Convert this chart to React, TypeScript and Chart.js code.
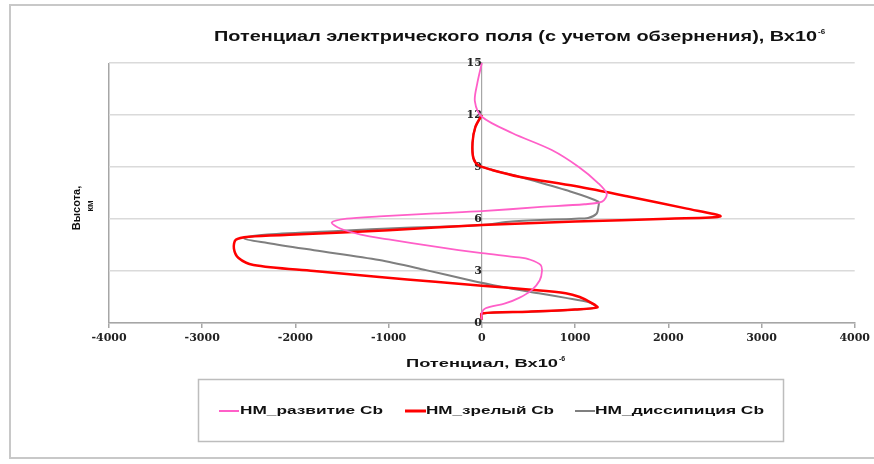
import React, { useEffect, useRef } from "react";
import { Chart, registerables } from "chart.js";

Chart.register(...registerables);

// ---- data (potential, x10^-6 V ; height, km) ----
const seriesLabels = ["НМ_развитие Cb", "НМ_зрелый Cb", "НМ_диссипиция Cb"];
const seriesColors = ["#ff5fc8", "#ff0000", "#7f7f7f"];

const razvitieX = [0, 0, 40, 250, 400, 535, 620, 645, 630, 520, 400, 0, -500, -1000, -1300, -1520, -1610, -1450, -1100, -500, 0, 600, 1100, 1290, 1340, 1250, 1040, 750, 330, 0, -75, -50, 0];
const razvitieY = [0.2, 0.6, 0.85, 1.13, 1.45, 1.9, 2.45, 3.0, 3.35, 3.65, 3.78, 4.03, 4.4, 4.82, 5.1, 5.45, 5.8, 6.02, 6.15, 6.32, 6.45, 6.68, 6.85, 7.0, 7.45, 8.06, 9.0, 9.98, 10.95, 11.9, 12.8, 13.8, 15];

const zrelyX = [0, 0, 500, 1000, 1240, 1180, 1050, 900, 500, 0, -500, -1100, -1800, -2450, -2610, -2660, -2640, -2500, -2000, -1000, 0, 1000, 2000, 2560, 2200, 1570, 1000, 400, 110, -35, -90, -100, -70, 0];
const zrelyY = [0.2, 0.55, 0.65, 0.78, 0.9, 1.15, 1.5, 1.72, 1.93, 2.15, 2.38, 2.65, 3.0, 3.35, 3.75, 4.3, 4.8, 4.98, 5.1, 5.35, 5.65, 5.85, 6.02, 6.15, 6.6, 7.3, 7.9, 8.44, 8.83, 9.1, 9.5, 10.4, 11.3, 12];

const dissX = [0, 0, 600, 1000, 1230, 1150, 900, 610, 200, -140, -600, -1100, -1800, -2300, -2550, -2300, -1500, -880, 0, 320, 1000, 1140, 1230, 1250, 1250, 900, 400, 110, -35, -90, -100, -70, 0];
const dissY = [0.2, 0.55, 0.66, 0.78, 0.9, 1.2, 1.45, 1.71, 2.1, 2.48, 3.05, 3.63, 4.2, 4.62, 4.88, 5.1, 5.32, 5.48, 5.65, 5.85, 6.02, 6.06, 6.3, 6.7, 7.0, 7.67, 8.44, 8.83, 9.1, 9.5, 10.4, 11.3, 12];

const xMin = -4000;
const xMax = 4000;
const xStep = 1000;
const yMin = 0;
const yMax = 15;
const yStep = 3;

const chartTitleBase = "Потенциал электрического поля (с учетом обзернения), Вх10";
const chartTitleSup = "-6";
const xTitleBase = "Потенциал, Вх10";
const xTitleSup = "-6";
const yTitleLines = ["Высота,", "км"];

function toPoints(xs: number[], ys: number[]) {
  return xs.map((x, i) => ({ x, y: ys[i] }));
}

function drawFitted(ctx: CanvasRenderingContext2D, text: string, x: number, y: number, width: number, font: string) {
  ctx.font = font;
  const w = ctx.measureText(text).width;
  ctx.save();
  ctx.translate(x, y);
  ctx.scale(width / w, 1);
  ctx.textAlign = "left";
  ctx.textBaseline = "middle";
  ctx.fillText(text, 0, 0);
  ctx.restore();
}

function drawWithSup(ctx: CanvasRenderingContext2D, base: string, sup: string, x: number, y: number, width: number, font: string, supFont: string) {
  drawFitted(ctx, base, x, y, width, font);
  ctx.save();
  ctx.font = supFont;
  ctx.textAlign = "left";
  ctx.textBaseline = "middle";
  ctx.fillText(sup, x + width + 1, y - 5);
  ctx.restore();
}

const decorPlugin = {
  id: "decor",
  beforeDraw(chart: any) {
    const ctx = chart.ctx as CanvasRenderingContext2D;
    ctx.save();
    ctx.fillStyle = "#ffffff";
    ctx.fillRect(0, 0, chart.width, chart.height);
    ctx.strokeStyle = "#c8c8c8";
    ctx.lineWidth = 2;
    ctx.beginPath();
    ctx.moveTo(874, 5);
    ctx.lineTo(10, 5);
    ctx.lineTo(10, 458);
    ctx.lineTo(874, 458);
    ctx.stroke();
    ctx.restore();
  },
  afterDraw(chart: any) {
    const ctx = chart.ctx as CanvasRenderingContext2D;
    ctx.save();
    ctx.fillStyle = "#111";
    // chart title
    drawWithSup(ctx, chartTitleBase, chartTitleSup, 214, 37, 603, "bold 14px 'Liberation Sans'", "bold 8px 'Liberation Sans'");
    // x-axis title
    drawWithSup(ctx, xTitleBase, xTitleSup, 406, 364, 152, "bold 11px 'Liberation Sans'", "bold 7px 'Liberation Sans'");
    // y-axis title (rotated)
    ctx.save();
    ctx.translate(77, 208);
    ctx.rotate(-Math.PI / 2);
    ctx.font = "bold 11px 'Liberation Sans'";
    ctx.textAlign = "center";
    ctx.textBaseline = "middle";
    ctx.fillText(yTitleLines[0], 0, 0);
    ctx.font = "bold 9px 'Liberation Sans'";
    ctx.fillText(yTitleLines[1], 2, 14);
    ctx.restore();

    // legend box
    ctx.strokeStyle = "#bdbdbd";
    ctx.lineWidth = 1.5;
    ctx.strokeRect(198.5, 379.5, 585, 62);
    const items = [
      { lx: 219, lw: 20, tx: 240, tw: 143, w: 2 },
      { lx: 405, lw: 21, tx: 426, tw: 128, w: 3 },
      { lx: 575, lw: 20, tx: 595, tw: 169, w: 2 },
    ];
    chart.data.datasets.forEach((ds: any, i: number) => {
      const it = items[i];
      ctx.strokeStyle = ds.borderColor;
      ctx.lineWidth = it.w;
      ctx.beginPath();
      ctx.moveTo(it.lx, 411);
      ctx.lineTo(it.lx + it.lw, 411);
      ctx.stroke();
      ctx.fillStyle = "#111";
      drawFitted(ctx, ds.label, it.tx, 411, it.tw, "bold 11px 'Liberation Sans'");
    });
    ctx.restore();
  },
};

export default function App() {
  const ref = useRef<HTMLCanvasElement | null>(null);
  useEffect(() => {
    if (!ref.current) return;
    const chart = new Chart(ref.current, {
      type: "scatter",
      data: {
        datasets: [
          { label: seriesLabels[0], data: toPoints(razvitieX, razvitieY), borderColor: seriesColors[0], backgroundColor: seriesColors[0], borderWidth: 1.8 },
          { label: seriesLabels[1], data: toPoints(zrelyX, zrelyY), borderColor: seriesColors[1], backgroundColor: seriesColors[1], borderWidth: 2.5 },
          { label: seriesLabels[2], data: toPoints(dissX, dissY), borderColor: seriesColors[2], backgroundColor: seriesColors[2], borderWidth: 2 },
        ].map((d) => ({ ...d, showLine: true, pointRadius: 0, tension: 0.3, fill: false })),
      },
      options: {
        responsive: false,
        animation: false,
        layout: { padding: { left: 109, right: 17, top: 63, bottom: 101 } },
        plugins: { legend: { display: false }, title: { display: false }, tooltip: { enabled: false } },
        scales: {
          x: {
            type: "linear",
            min: xMin,
            max: xMax,
            ticks: {
              stepSize: xStep,
              padding: 4,
              color: "#222",
              font: { family: "'DejaVu Serif'", weight: "bold", size: 11 },
              maxRotation: 0,
              callback: (v: any) => String(v),
            },
            grid: {
              color: (c: any) => (c.tick && c.tick.value === xMin ? "#a6a6a6" : "rgba(0,0,0,0)"),
              tickColor: "#a6a6a6",
              tickLength: 5,
              lineWidth: 1.5,
            },
            border: { color: "#a6a6a6", width: 1.5 },
            afterFit: (s: any) => {
              s.height = 40;
            },
          },
          y: {
            type: "linear",
            position: { x: 0 } as any,
            min: yMin,
            max: yMax,
            ticks: {
              stepSize: yStep,
              padding: 3,
              color: "#222",
              font: { family: "'DejaVu Serif'", weight: "bold", size: 11 },
              callback: (v: any) => String(v),
            },
            grid: { color: "#dadada", lineWidth: 1.5, tickColor: "#a6a6a6", tickLength: 4 },
            border: { color: "#a6a6a6", width: 1.2 },
          },
        },
      },
      plugins: [decorPlugin],
    } as any);
    return () => chart.destroy();
  }, []);
  return (
    <div style={{ position: "absolute", left: 0, top: 0, width: 874, height: 464 }}>
      <canvas ref={ref} width={874} height={464} style={{ display: "block" }} />
    </div>
  );
}
